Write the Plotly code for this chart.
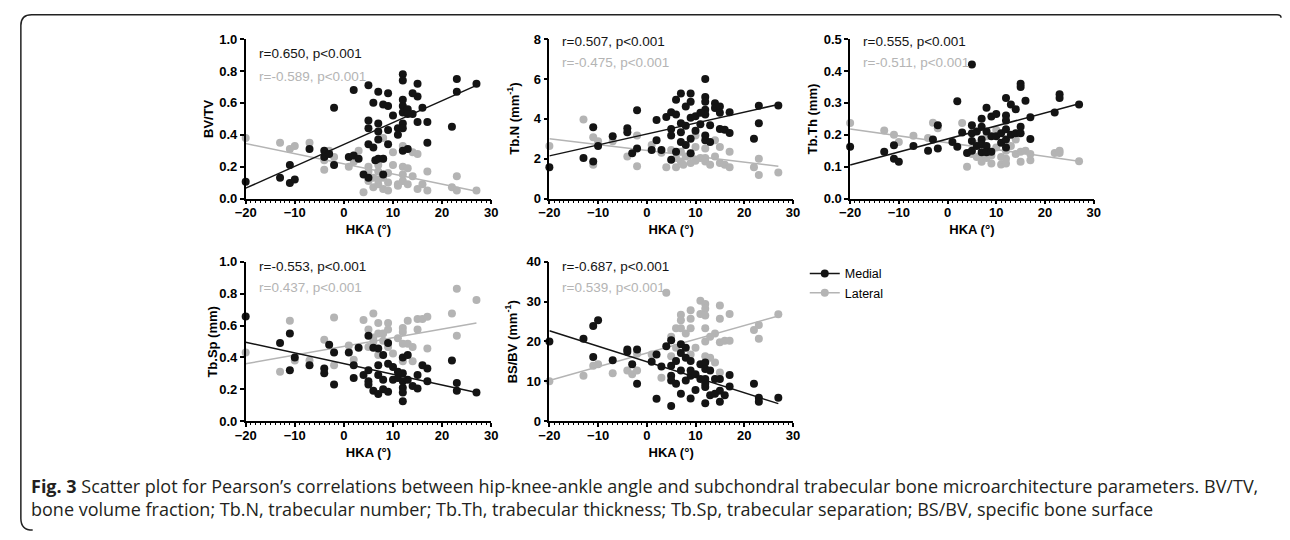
import plotly.graph_objects as go

W, H = 1290, 540

# ---------------- data ----------------
x_ticks = [-20, -10, 0, 10, 20, 30]

bvtv_medial = [(-20,0.105),(-13,0.13),(-11,0.21),(-11,0.097),(-10,0.12),(-7,0.31),(-4,0.30),(-4,0.26),
    (-3,0.28),(-2,0.21),(-2,0.57),(2,0.68),(1,0.26),(2,0.27),(3,0.25),(4,0.15),(5,0.13),(5,0.71),(5,0.49),
    (5,0.44),(5,0.34),(6,0.32),(6,0.60),(7,0.67),(7,0.47),(7,0.42),(7,0.37),(7,0.25),(6.4,0.24),(8,0.59),
    (8,0.25),(8,0.15),(9,0.66),(9,0.43),(9,0.58),(9,0.34),(10,0.52),(11,0.44),(11,0.40),(12,0.78),(12,0.74),
    (12,0.62),(12,0.58),(12,0.54),(12,0.47),(12,0.44),(12,0.30),(13,0.31),(13,0.56),(14,0.53),(15,0.72),
    (15,0.64),(15,0.48),(14,0.66),(16,0.57),(17,0.48),(17,0.35),(22,0.45),(23,0.75),(23,0.67),(27,0.72),(13,0.53)]
bvtv_lateral = [(-20,0.38),(-13,0.35),(-11,0.31),(-10,0.33),(-7,0.35),(-4,0.24),(-4,0.18),(-3,0.30),(-2,0.26),
    (1,0.20),(2,0.23),(3,0.30),(4,0.04),(5,0.20),(5,0.17),(5,0.11),(6,0.13),(6,0.07),(7,0.17),(7,0.09),(7,0.21),
    (8,0.06),(8,0.13),(8,0.38),(8,0.25),(9,0.10),(9,0.05),(10,0.21),(10,0.29),(11,0.09),(11,0.08),(12,0.20),
    (12,0.15),(12,0.11),(12,0.33),(13,0.19),(13,0.09),(14,0.14),(14,0.29),(15,0.28),(15,0.06),(16,0.09),
    (17,0.17),(17,0.05),(22,0.07),(23,0.14),(23,0.05),(27,0.05),(7,0.12),(9,0.16)]
bvtv_fit_medial = [0.065, 0.71]
bvtv_fit_lateral = [0.345, 0.045]

tbn_medial = [(-20,1.57),(-13,2.03),(-11,1.86),(-11,3.57),(-10,2.64),(-7,3.13),(-4,3.52),(-4,3.32),(-3,2.27),
    (-2,2.51),(-2,4.43),(2,3.94),(2,2.92),(1,2.43),(3,2.43),(4,4.09),(5,1.95),(5,4.33),(5,3.49),(5,3.16),
    (6,4.22),(6,4.95),(6,2.35),(7,5.27),(7,3.78),(7,3.32),(7,2.84),(8,4.62),(8,3.65),(8,2.68),(9,5.27),(9,4.86),
    (9,4.05),(9,2.27),(9,3.0),(10,4.13),(10,3.4),(11,3.73),(12,6.0),(12,5.1),(12,4.86),(12,4.46),(12,4.22),
    (12,3.16),(12,2.92),(13,3.68),(13,2.84),(14,4.78),(14,4.54),(15,4.62),(15,4.3),(15,3.49),(16,3.45),
    (17,4.33),(17,3.29),(22,3.0),(23,4.65),(23,3.78),(27,4.67),(11,4.3)]
tbn_lateral = [(-20,2.63),(-13,3.97),(-11,3.08),(-11,1.70),(-10,2.87),(-7,2.87),(-4,2.11),(-2,1.62),(-2,3.16),
    (1,2.68),(4,1.57),(5,2.43),(6,1.57),(6,2.03),(7,1.86),(7,2.35),(8,2.11),(9,1.78),(9,2.19),(10,3.16),
    (10,2.59),(11,2.03),(12,2.51),(12,2.03),(12,1.86),(13,1.70),(14,2.92),(14,2.11),(15,2.59),(15,1.78),
    (16,1.70),(17,1.57),(17,2.35),(22,1.57),(23,1.18),(23,2.0),(27,1.31),(7.5,1.70),(3,2.3),(10,1.9)]
tbn_fit_medial = [2.14, 4.72]
tbn_fit_lateral = [3.0, 1.62]

tbth_medial = [(-20,0.162),(-13,0.147),(-11,0.167),(-11,0.125),(-10,0.115),(-7,0.165),(-4,0.15),(-3,0.185),
    (-2,0.23),(-2,0.157),(1,0.177),(2,0.305),(2,0.162),(3,0.207),(4,0.143),(5,0.42),(5,0.23),(5,0.205),(5,0.18),
    (5,0.15),(6,0.21),(6,0.165),(7,0.25),(7,0.225),(7,0.185),(7,0.17),(7,0.145),(8,0.285),(8,0.21),(8,0.165),
    (8,0.145),(9,0.257),(9,0.195),(9,0.147),(10,0.265),(10,0.195),(11,0.205),(11,0.175),(12,0.315),(12,0.26),
    (12,0.245),(12,0.217),(12,0.185),(12,0.16),(13,0.295),(13,0.2),(14,0.28),(14,0.205),(15,0.36),(15,0.35),
    (15,0.225),(15,0.205),(16,0.307),(17,0.255),(17,0.187),(22,0.27),(23,0.327),(23,0.315),(27,0.295)]
tbth_lateral = [(-20,0.237),(-13,0.213),(-11,0.2),(-10,0.177),(-7,0.197),(-4,0.19),(-3,0.238),(-2,0.22),
    (3,0.237),(4,0.1),(5,0.14),(6,0.13),(7,0.115),(7,0.135),(8,0.127),(9,0.11),(9,0.135),(10,0.16),(11,0.107),
    (12,0.11),(12,0.125),(12,0.15),(13,0.165),(14,0.14),(14,0.185),(15,0.115),(15,0.147),(16,0.15),(17,0.12),
    (17,0.14),(22,0.143),(23,0.15),(23,0.143),(27,0.117),(8,0.195),(10,0.215),(6,0.17),(11,0.13)]
tbth_fit_medial = [0.105, 0.297]
tbth_fit_lateral = [0.218, 0.117]

tbsp_medial = [(-20,0.657),(-13,0.49),(-11,0.55),(-11,0.32),(-10,0.40),(-7,0.35),(-4,0.33),(-4,0.30),(-3,0.48),
    (-2,0.43),(-2,0.23),(1,0.43),(2,0.35),(2,0.27),(3,0.46),(4,0.29),(5,0.535),(5,0.32),(5,0.25),(5,0.23),
    (6,0.46),(6,0.19),(7,0.455),(7,0.35),(7,0.29),(7,0.17),(8,0.415),(8,0.2),(8,0.26),(9,0.49),(9,0.36),
    (9,0.185),(10,0.34),(10,0.26),(11,0.27),(12,0.40),(12,0.30),(12,0.25),(12,0.21),(12,0.18),(12,0.125),
    (13,0.415),(13,0.26),(14,0.22),(15,0.29),(15,0.205),(16,0.35),(17,0.33),(17,0.25),(22,0.38),(23,0.24),
    (23,0.19),(27,0.18),(11,0.31)]
tbsp_lateral = [(-20,0.43),(-13,0.31),(-11,0.63),(-10,0.38),(-7,0.38),(-4,0.51),(-2,0.35),(-2,0.65),(1,0.475),
    (2,0.385),(4,0.635),(5,0.575),(5,0.465),(6,0.675),(6,0.525),(7,0.615),(7,0.55),(7,0.415),(8,0.505),
    (9,0.615),(9,0.575),(9,0.465),(10,0.425),(11,0.52),(12,0.585),(12,0.56),(12,0.485),(12,0.375),(13,0.63),
    (13,0.485),(14,0.375),(14,0.465),(15,0.575),(15,0.64),(16,0.64),(17,0.655),(17,0.455),(22,0.675),
    (23,0.83),(23,0.535),(27,0.76),(8,0.55),(6,0.5)]
tbsp_fit_medial = [0.495, 0.18]
tbsp_fit_lateral = [0.36, 0.615]

bsbv_medial = [(-20,20.0),(-13,20.7),(-11,23.9),(-11,16.1),(-10,25.3),(-7,15.3),(-4,18.0),(-4,17.4),(-3,14.3),
    (-2,18.0),(-2,9.4),(1,14.9),(2,16.7),(2,5.6),(3,13.7),(4,18.8),(5,20.3),(5,13.9),(5,11.4),(5,10.2),(5,3.8),
    (6,15.1),(6,9.4),(7,19.3),(7,17.1),(7,12.7),(7,6.9),(8,18.4),(8,15.9),(8,10.2),(9,15.1),(9,12.7),(9,11.4),
    (9,5.7),(10,7.8),(10,11.8),(11,14.3),(11,10.6),(12,14.7),(12,13.1),(12,10.6),(12,9.4),(12,8.6),(12,4.5),
    (13,12.7),(13,6.5),(14,10.6),(14,6.9),(15,10.6),(15,7.6),(15,4.9),(16,6.5),(17,11.6),(17,8.7),(22,9.4),
    (23,5.9),(23,4.9),(27,5.9)]
bsbv_lateral = [(-20,10.0),(-13,11.4),(-11,13.9),(-10,14.3),(-7,12.0),(-4,12.7),(-3,11.8),(-2,12.7),(-2,16.9),
    (1,16.7),(3,10.9),(4,32.2),(5,21.2),(5,16.3),(6,23.3),(6,18.4),(7,26.7),(7,25.3),(7,23.3),(8,22.0),
    (9,27.8),(9,25.7),(9,23.3),(9,16.7),(10,18.4),(11,30.2),(11,26.9),(12,29.4),(12,28.2),(12,26.5),(12,23.3),
    (12,20.0),(12,16.3),(13,21.2),(13,15.9),(14,22.0),(14,14.7),(15,29.0),(15,25.7),(15,19.8),(15,12.2),
    (16,20.2),(17,26.9),(17,20.2),(22,22.9),(23,24.1),(23,20.7),(27,26.8)]
bsbv_fit_medial = [22.7, 4.4]
bsbv_fit_lateral = [10.2, 26.4]

fit_x = [-20, 27]

panels = [
    dict(med=bvtv_medial, lat=bvtv_lateral, fm=bvtv_fit_medial, fl=bvtv_fit_lateral,
         yr=[0, 1.0], yt=[0, 0.2, 0.4, 0.6, 0.8, 1.0], fmt=".1f", title="BV/TV",
         r1="r=0.650, p<0.001", r2="r=-0.589, p<0.001"),
    dict(med=tbn_medial, lat=tbn_lateral, fm=tbn_fit_medial, fl=tbn_fit_lateral,
         yr=[0, 8], yt=[0, 2, 4, 6, 8], fmt="d", title="Tb.N (mm<sup>-1</sup>)",
         r1="r=0.507, p<0.001", r2="r=-0.475, p<0.001"),
    dict(med=tbth_medial, lat=tbth_lateral, fm=tbth_fit_medial, fl=tbth_fit_lateral,
         yr=[0, 0.5], yt=[0, 0.1, 0.2, 0.3, 0.4, 0.5], fmt=".1f", title="Tb.Th (mm)",
         r1="r=0.555, p<0.001", r2="r=-0.511, p<0.001"),
    dict(med=tbsp_medial, lat=tbsp_lateral, fm=tbsp_fit_medial, fl=tbsp_fit_lateral,
         yr=[0, 1.0], yt=[0, 0.2, 0.4, 0.6, 0.8, 1.0], fmt=".1f", title="Tb.Sp (mm)",
         r1="r=-0.553, p<0.001", r2="r=0.437, p<0.001"),
    dict(med=bsbv_medial, lat=bsbv_lateral, fm=bsbv_fit_medial, fl=bsbv_fit_lateral,
         yr=[0, 40], yt=[0, 10, 20, 30, 40], fmt="d", title="BS/BV (mm<sup>-1</sup>)",
         r1="r=-0.687, p<0.001", r2="r=0.539, p<0.001"),
]

# ---------------- layout in page pixels ----------------
def px(x):
    return x / W

def py(y):
    return 1 - y / H

boxes = [  # (left, right, top, bottom) in pixels
    (238, 487, 33, 197),
    (546, 793, 33, 197),
    (851, 1098, 33, 197),
    (238, 487, 262, 426),
    (546, 793, 262, 426),
]
ytitle_pos = [(201, 115), (509, 115), (813, 115), (204, 344), (508, 344)]
rtext_pos = [(249, 48, 72), (557, 36, 57), (862, 36, 57), (249, 267, 289), (557, 267, 289)]

BLACK = "#141414"
GRAY = "#b4b4b4"
FONT = "Liberation Sans"

fig = go.Figure()

fig.add_trace(go.Scatter(x=[None], y=[None], mode="lines+markers", name="Medial",
                         line=dict(color=BLACK, width=1.5), marker=dict(color=BLACK, size=8)))
fig.add_trace(go.Scatter(x=[None], y=[None], mode="lines+markers", name="Lateral",
                         line=dict(color=GRAY, width=1.5), marker=dict(color=GRAY, size=8)))

annotations = []
layout_axes = {}
for i, (p, box) in enumerate(zip(panels, boxes)):
    n = i + 1
    xa = "x" if n == 1 else f"x{n}"
    ya = "y" if n == 1 else f"y{n}"
    lx, ly = zip(*p["lat"])
    mx, my = zip(*p["med"])
    fig.add_trace(go.Scatter(x=list(lx), y=list(ly), mode="markers", xaxis=xa, yaxis=ya,
                             marker=dict(color=GRAY, size=8), showlegend=False, cliponaxis=False))
    fig.add_trace(go.Scatter(x=fit_x, y=p["fl"], mode="lines", xaxis=xa, yaxis=ya,
                             line=dict(color=GRAY, width=1.5), showlegend=False))
    fig.add_trace(go.Scatter(x=list(mx), y=list(my), mode="markers", xaxis=xa, yaxis=ya,
                             marker=dict(color=BLACK, size=8), showlegend=False, cliponaxis=False))
    fig.add_trace(go.Scatter(x=fit_x, y=p["fm"], mode="lines", xaxis=xa, yaxis=ya,
                             line=dict(color=BLACK, width=1.5), showlegend=False))

    l, r, t, b = box
    xkey = "xaxis" if n == 1 else f"xaxis{n}"
    ykey = "yaxis" if n == 1 else f"yaxis{n}"
    layout_axes[xkey] = dict(
        domain=[px(l), px(r)], anchor=ya, range=[-20, 30], tickvals=x_ticks,
        showgrid=False, zeroline=False, showline=True, linecolor="black", linewidth=1.5,
        ticks="outside", ticklen=4, tickwidth=1.5, tickcolor="black", ticklabelstandoff=-3,
        tickfont=dict(family=FONT, size=13, color="black", weight="bold"),
        minor=dict(dtick=1, ticks="outside", ticklen=2.5, tickwidth=1, tickcolor="black"),
        title=dict(text="HKA (°)", font=dict(family=FONT, size=13, color="black", weight="bold"),
                   standoff=6),
    )
    layout_axes[ykey] = dict(
        domain=[py(b), py(t)], anchor=xa, range=p["yr"], tickvals=p["yt"], tickformat=p["fmt"],
        showgrid=False, zeroline=False, showline=True, linecolor="black", linewidth=1.5,
        ticks="outside", ticklen=4, tickwidth=1.5, tickcolor="black",
        tickfont=dict(family=FONT, size=13, color="black", weight="bold"),
    )
    tx, tyc = ytitle_pos[i]
    annotations.append(dict(text=p["title"], x=px(tx), y=py(tyc), xref="paper", yref="paper",
                            textangle=-90, showarrow=False, xanchor="center", yanchor="middle",
                            font=dict(family=FONT, size=13, color="black", weight="bold")))
    rx, ry1, ry2 = rtext_pos[i]
    annotations.append(dict(text=p["r1"], x=px(rx), y=py(ry1), xref="paper", yref="paper",
                            showarrow=False, xanchor="left", yanchor="middle",
                            font=dict(family=FONT, size=13.5, color=BLACK)))
    annotations.append(dict(text=p["r2"], x=px(rx), y=py(ry2), xref="paper", yref="paper",
                            showarrow=False, xanchor="left", yanchor="middle",
                            font=dict(family=FONT, size=13.5, color=GRAY)))

CAP_FONT = "Open Sans"
cap1 = ("<b>Fig. 3</b> Scatter plot for Pearson’s correlations between hip-knee-ankle angle and subchondral "
        "trabecular bone microarchitecture parameters. BV/TV,")
cap2 = ("bone volume fraction; Tb.N, trabecular number; Tb.Th, trabecular thickness; Tb.Sp, trabecular "
        "separation; BS/BV, specific bone surface")
annotations.append(dict(text=cap1, x=px(18), y=py(493), xref="paper", yref="paper", showarrow=False,
                        xanchor="left", yanchor="middle", font=dict(family=CAP_FONT, size=18, color="#231f20")))
annotations.append(dict(text=cap2, x=px(18), y=py(516), xref="paper", yref="paper", showarrow=False,
                        xanchor="left", yanchor="middle", font=dict(family=CAP_FONT, size=18, color="#231f20")))

frame_path = (f"M {px(22)},{py(538)} Q {px(10)},{py(538)} {px(10)},{py(526)} "
              f"L {px(10)},{py(19)} Q {px(10)},{py(8)} {px(21)},{py(8)} "
              f"L {px(1284)},{py(8)} Q {px(1288)},{py(8)} {px(1288)},{py(11)}")

fig.update_layout(
    width=W, height=H, margin=dict(l=0, r=0, t=0, b=0),
    paper_bgcolor="white", plot_bgcolor="white",
    showlegend=True,
    legend=dict(x=px(805), y=py(259), xanchor="left", yanchor="top", bgcolor="rgba(0,0,0,0)",
                font=dict(family=FONT, size=12.5, color="black"), tracegroupgap=4, itemwidth=30),
    annotations=annotations,
    shapes=[dict(type="path", path=frame_path, xref="paper", yref="paper",
                 line=dict(color="#222", width=1.5))],
    **layout_axes,
)

fig.write_html("out.html", config={"displayModeBar": False},
               post_script="document.body.style.margin='0px';document.documentElement.style.overflow='hidden';")
